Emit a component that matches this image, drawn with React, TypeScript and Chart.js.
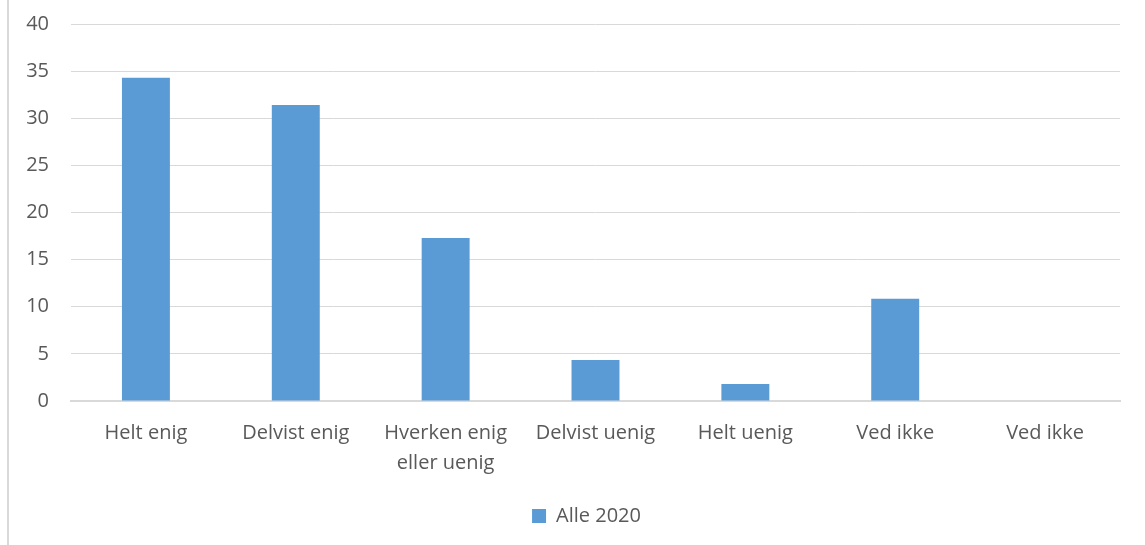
import React, { useEffect, useRef } from "react";
import { Chart, registerables } from "chart.js";

Chart.register(...registerables);

const categories: (string | string[])[] = [
  "Helt enig",
  "Delvist enig",
  ["Hverken enig", "eller uenig"],
  "Delvist uenig",
  "Helt uenig",
  "Ved ikke",
  "Ved ikke",
];
const seriesLabel = "Alle 2020";
const values: number[] = [34.3, 31.4, 17.3, 4.35, 1.8, 10.85, 0];
const yTicks: number[] = [0, 5, 10, 15, 20, 25, 30, 35, 40];

const FONT = "'Open Sans', 'Liberation Sans', sans-serif";
const TEXT = "#595959";
const GRID = "#d9d9d9";
const BAR = "#5b9bd5";

const legendShift = {
  id: "legendShift",
  afterLayout(chart: any) {
    const lg = chart.legend;
    if (lg) {
      lg.left -= 9;
      lg.right -= 9;
    }
  },
};

export default function App() {
  const ref = useRef<HTMLCanvasElement | null>(null);
  useEffect(() => {
    if (!ref.current) return;
    const chart = new Chart(ref.current, {
      type: "bar",
      data: {
        labels: categories,
        datasets: [
          {
            label: seriesLabel,
            data: values,
            backgroundColor: BAR,
            borderWidth: 0,
            barPercentage: 0.64,
            categoryPercentage: 0.5,
          },
        ],
      },
      plugins: [legendShift],
      options: {
        animation: false,
        responsive: false,
        maintainAspectRatio: false,
        layout: { padding: { left: 0, right: 25, top: 0, bottom: 9 } },
        plugins: {
          legend: {
            position: "bottom",
            fullSize: false,
            labels: {
              boxWidth: 14,
              boxHeight: 14,
              color: TEXT,
              font: { family: FONT, size: 20 },
              padding: 10,
            },
          },
          tooltip: { enabled: false },
        },
        scales: {
          x: {
            grid: { display: false, drawTicks: false },
            border: { color: GRID, width: 2 },
            ticks: {
              color: TEXT,
              font: { family: FONT, size: 20, lineHeight: 1.5 },
              padding: 17,
              maxRotation: 0,
              autoSkip: false,
            },
            afterFit: (s: any) => {
              s.height = 95;
            },
          },
          y: {
            min: 0,
            max: 40,
            afterBuildTicks: (s: any) => {
              s.ticks = yTicks.map((v) => ({ value: v }));
            },
            grid: { color: GRID, lineWidth: 1, drawTicks: false },
            border: { display: false },
            ticks: {
              color: TEXT,
              font: { family: FONT, size: 20 },
              padding: 22,
            },
            afterFit: (s: any) => {
              s.width = 71;
              s.paddingTop = 24;
              s.paddingBottom = 12;
            },
          },
        },
      },
    });
    return () => chart.destroy();
  }, []);
  return (
    <div style={{ position: "fixed", left: 0, top: 0, width: 1145, height: 545, background: "#fff" }}>
      <div style={{ position: "absolute", left: 7, top: 0, width: 0, height: 545, borderLeft: "2px solid #d9d9d9" }} />
      <canvas ref={ref} width={1145} height={545} style={{ position: "absolute", left: 0, top: 0 }} />
    </div>
  );
}
